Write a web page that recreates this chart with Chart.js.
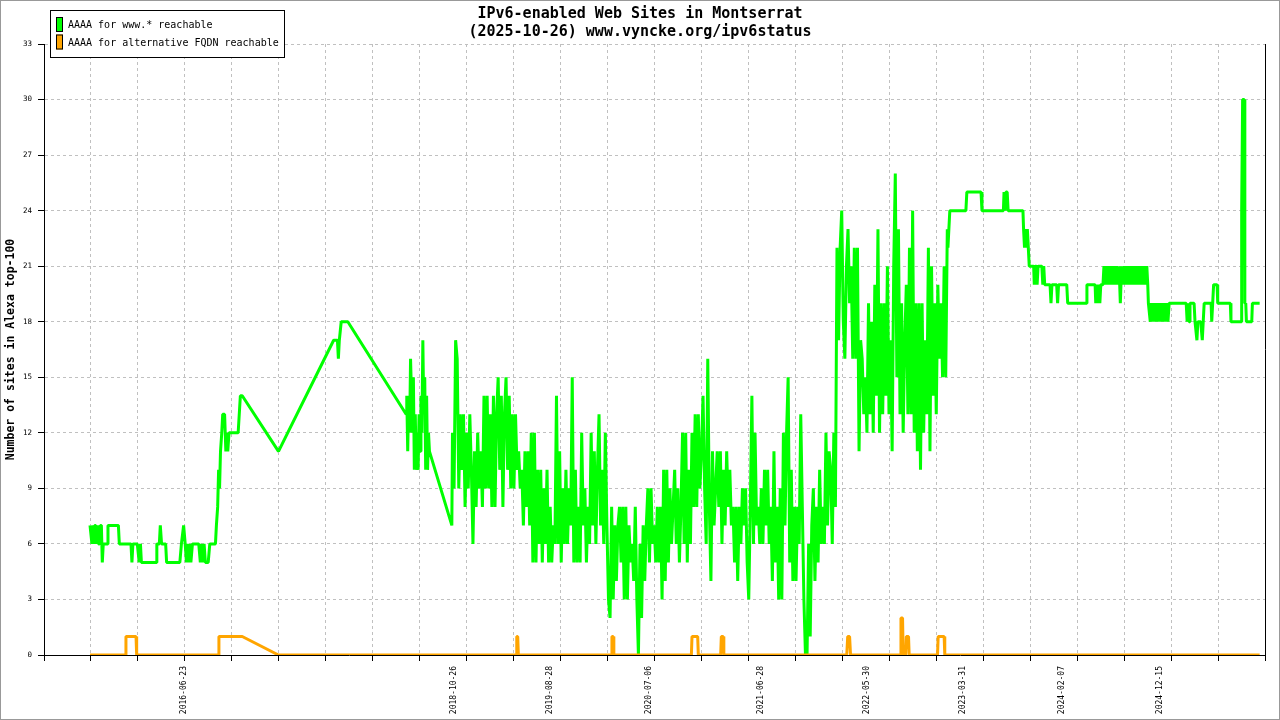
<!DOCTYPE html>
<html><head><meta charset="utf-8">
<script src="https://cdn.jsdelivr.net/npm/chart.js@4.4.1/dist/chart.umd.min.js"></script>
<style>html,body{margin:0;padding:0;background:#fff;}canvas{display:block;}</style>
</head><body>
<canvas id="c" width="1280" height="720"></canvas>
<script>
const titleLines = ['IPv6-enabled Web Sites in Montserrat', '(2025-10-26) www.vyncke.org/ipv6status'];
const yTitle = 'Number of sites in Alexa top-100';
const seriesNames = ['AAAA for www.* reachable', 'AAAA for alternative FQDN reachable'];
const startDate = '2015-08-29';
const tickLabels = ['2016-06-23','2018-10-26','2019-08-28','2020-07-06','2021-06-28','2022-05-30','2023-03-31','2024-02-07','2024-12-15'];

// days since startDate
const wwwDays = [
  0,3,6,9,12,15,18,21,24,27,
  30,33,36,39,42,48,54,57,90,93,
  130,133,136,150,156,160,163,210,212,220,
  223,227,240,243,285,290,297,302,306,310,
  313,317,320,325,330,345,350,354,358,362,
  366,375,380,398,401,405,408,411,414,418,
  421,427,431,434,437,441,470,477,483,598,
  773,785,788,791,797,818,
  1003,1005,1008,1011,1014,1017,1020,1023,1026,1029,
  1032,1035,1038,1041,1044,1047,1050,1053,1056,1059,
  1062,1065,1068,1071,1074,1077,1148,
  1150,1155,1160,1165,1170,1175,1180,1185,1190,1195,
  1200,1205,1210,1215,1220,1225,1230,1235,1240,1245,
  1250,1255,1260,1265,1270,1275,1280,1285,1290,1295,
  1300,1305,1310,1315,1320,1325,1330,1335,1340,1345,
  1350,1355,1360,1365,1370,1375,1380,1385,1390,1395,
  1400,1405,1410,1415,1420,1425,1430,1435,1440,1445,
  1450,1455,1460,1465,1470,1475,1480,1485,1490,1495,
  1500,1505,1510,1515,1520,1525,1530,1535,1540,1545,
  1550,1555,1560,1565,1570,1575,1580,1585,1590,1595,
  1600,1605,1610,1615,1620,1625,1630,1635,1640,1645,
  1650,1655,1660,1665,1670,1675,1680,1685,1690,1695,
  1700,1705,1710,1715,1720,1725,1730,1735,1740,1745,
  1750,1755,1760,1765,1770,1775,1780,1785,1790,1795,
  1800,1805,1810,1815,1820,1825,1830,1835,1840,1845,
  1850,1855,1860,1865,1870,1875,1880,1885,1890,1895,
  1900,1905,1910,1915,1920,1925,1930,1935,1940,1945,
  1950,1955,1960,1965,1970,1975,1980,1985,1990,1995,
  2000,2005,2010,2015,2020,2025,2030,2035,2040,2045,
  2050,2055,2060,2065,2070,2075,2080,2085,2090,2095,
  2100,2105,2110,2115,2120,2125,2130,2135,2140,2145,
  2150,2155,2160,2165,2170,2175,2180,2185,2190,2195,
  2200,2205,2210,2215,2220,2225,2230,2235,2240,2245,
  2250,2255,2260,2265,2270,2275,2280,2285,2290,2295,
  2300,2305,2310,2315,2320,2325,2330,2335,2340,2345,
  2350,2355,2360,2365,2370,2375,2380,2385,2390,2395,
  2400,2405,2410,2415,2420,2425,2430,2435,2440,2445,
  2450,2455,2460,2465,2470,2475,2480,2485,2490,2495,
  2500,2505,2510,2515,2520,2525,2530,2535,2540,2545,
  2550,2555,2560,2565,2570,2575,2580,2585,2590,2595,
  2600,2605,2610,2615,2620,2625,2630,2635,2640,2645,
  2650,2655,2660,2665,2670,2675,2680,2685,2690,2695,
  2700,2705,2710,2715,2720,
  2722,2725,2728,2779,2782,2827,2830,2898,2900,2903,
  2906,2910,2913,2960,2962,2965,2968,2971,2974,2977,
  2980,2994,2996,2999,3003,3005,3008,3020,3023,3026,
  3029,3046,3049,3052,3067,3070,3073,3099,3102,3161,
  3163,3189,3191,3194,3198,3201,3204,3207,3214,3217,
  3221,3225,3229,3233,3237,3241,3245,3249,3253,3257,
  3261,3265,3269,3273,3277,3281,3285,3289,3293,3297,
  3301,3305,3309,3313,3317,3321,3325,3329,3333,3337,
  3341,3345,3349,3353,3356,3358,
  3364,3368,3372,3376,3380,3384,3388,3392,3396,3400,
  3404,3408,3412,3416,3420,3424,
  3478,3481,3484,3487,3490,3503,3506,3509,3512,3515,
  3524,3529,3532,3535,3557,3559,3562,3565,3576,3578,
  3618,3620,3652,3654,3657,3662,3664,3667,3669,3686,
  3688,3711
];
const wwwSites = [
  7,7,6,7,6,7,7,6,7,6,
  6,7,7,5,6,6,6,7,7,6,
  6,5,6,6,5,6,5,5,6,6,
  7,6,6,5,5,6,7,6,5,6,
  5,6,5,6,6,6,5,6,5,6,
  5,5,6,6,7,8,10,9,11,12,
  13,13,11,12,11,12,12,14,14,11,
  17,17,16,17,18,18,
  13,14,11,14,12,16,14,12,15,10,
  13,10,12,10,13,11,14,12,17,13,
  15,10,14,10,12,11,7,
  12,9,17,16,9,13,10,13,8,12,
  9,13,10,6,11,8,12,9,11,8,
  14,9,14,9,13,8,14,8,13,15,
  10,14,8,13,15,10,14,9,13,9,
  13,10,11,9,10,7,11,8,11,7,
  12,5,12,5,10,6,10,5,9,6,
  10,5,8,5,7,6,14,6,11,5,
  9,6,10,6,9,7,15,5,10,5,
  8,5,12,7,9,5,8,6,12,7,
  11,6,10,13,7,10,6,12,7,3,
  2,8,3,7,4,7,8,5,8,3,
  8,3,7,5,6,4,8,3,0,6,
  2,7,4,7,9,5,9,6,7,5,
  8,5,8,3,10,4,10,5,9,6,
  8,10,6,9,5,8,12,6,12,5,
  10,6,12,8,13,8,13,9,11,14,
  9,6,16,8,4,11,7,9,11,8,
  11,6,10,7,11,8,10,7,8,5,
  8,4,8,6,9,7,9,5,3,8,
  14,6,12,7,8,6,9,6,10,7,
  10,6,8,4,11,5,8,3,9,3,
  12,7,12,15,5,10,4,8,4,8,
  6,13,8,3,0,0,6,1,7,9,
  4,8,5,10,6,8,6,12,7,11,
  10,6,12,8,22,17,22,24,18,16,
  21,23,19,21,16,22,16,22,11,17,
  16,13,15,12,19,13,18,12,20,14,
  23,12,19,13,19,14,21,13,17,11,
  21,26,15,23,13,19,12,17,20,13,
  22,13,24,12,19,11,19,10,19,12,
  17,13,22,11,21,14,19,13,20,16,
  19,15,21,15,23,
  22,23,24,24,25,25,24,24,25,24,
  25,25,24,24,23,22,23,22,23,22,
  21,21,20,21,21,20,21,21,20,21,
  20,20,19,20,20,19,20,20,19,19,
  20,20,19,20,19,20,19,20,20,21,
  20,21,20,21,20,21,20,21,20,21,
  20,21,19,21,20,21,20,21,20,21,
  20,21,20,21,20,21,20,21,20,21,
  20,21,20,21,20,19,
  18,19,18,19,18,19,18,19,18,19,
  18,19,18,19,18,19,
  19,18,19,18,19,19,18,18,17,18,
  18,17,18,19,19,18,19,20,20,19,
  19,18,18,24,30,30,19,19,18,18,
  19,19
];
const altDays = [0,112,114,146,148,407,409,483,598,1352,1354,1357,1359,1654,1656,1660,1662,1908,1910,1928,1930,2001,2003,2009,2011,2401,2404,2410,2413,2571,2573,2578,2580,2588,2590,2597,2599,2689,2691,2710,2712,3711];
const altSites = [0,0,1,1,0,0,1,1,0,0,1,1,0,0,1,1,0,0,1,1,0,0,1,1,0,0,1,1,0,0,2,2,0,0,1,1,0,0,1,1,0,0];

const FONT = "'DejaVu Sans Mono', 'Liberation Mono', monospace";
function dayOf(s) {
  const [y, m, d] = s.split('-').map(Number);
  const [y0, m0, d0] = startDate.split('-').map(Number);
  return Math.round((Date.UTC(y, m - 1, d) - Date.UTC(y0, m0 - 1, d0)) / 86400000);
}
const labelDays = tickLabels.map(dayOf);
const labelMap = new Map(labelDays.map((d, i) => [d, tickLabels[i]]));
const xMin = -146, xStep = 149, xDivs = 26, xMax = xMin + xStep * xDivs;
const gridDays = [];
for (let k = 0; k <= xDivs; k++) gridDays.push(xMin + k * xStep);
const allTicks = gridDays.concat(labelDays).sort((a, b) => a - b);
const isLabelTick = (c) => c.tick && labelMap.has(c.tick.value);

const decor = {
  id: 'decor',
  beforeDraw(chart) {
    const c = chart.ctx; c.save(); c.fillStyle = '#fff'; c.fillRect(0, 0, chart.width, chart.height); c.restore();
  },
  afterDraw(chart) {
    const c = chart.ctx, a = chart.chartArea;
    c.save();
    c.strokeStyle = '#000'; c.lineWidth = 1;
    c.beginPath(); c.moveTo(Math.round(a.right) + 0.5, a.top); c.lineTo(Math.round(a.right) + 0.5, a.bottom); c.stroke();
    c.fillStyle = '#000'; c.textAlign = 'center'; c.textBaseline = 'middle';
    c.font = 'bold 15px ' + FONT;
    c.fillText(titleLines[0], chart.width / 2, 14);
    c.fillText(titleLines[1], chart.width / 2, 32);
    // legend
    c.fillStyle = '#fff'; c.fillRect(50, 10, 235, 48);
    c.strokeStyle = '#000'; c.strokeRect(50.5, 10.5, 234, 47);
    const cols = chart.data.datasets.map(d => d.borderColor);
    const rows = [25.5, 43];
    c.font = '10px ' + FONT; c.textAlign = 'left';
    seriesNames.forEach((n, i) => {
      c.fillStyle = cols[i];
      c.fillRect(56, rows[i] - 8.5, 7, 15);
      c.strokeStyle = '#000'; c.strokeRect(56.5, rows[i] - 8, 6, 14);
      c.fillStyle = '#000'; c.fillText(n, 68, rows[i]);
    });
    c.strokeStyle = '#999'; c.strokeRect(0.5, 0.5, chart.width - 1, chart.height - 1);
    c.restore();
  }
};

new Chart(document.getElementById('c'), {
  type: 'line',
  data: {
    datasets: [
      { label: seriesNames[0], data: wwwDays.map((d, i) => ({ x: d, y: wwwSites[i] })), borderColor: '#00ff00', backgroundColor: '#00ff00',
        borderWidth: 3, pointRadius: 0, tension: 0, fill: false, order: 1, borderJoinStyle: 'bevel' },
      { label: seriesNames[1], data: altDays.map((d, i) => ({ x: d, y: altSites[i] })), borderColor: '#ffa500', backgroundColor: '#ffa500',
        borderWidth: 3, pointRadius: 0, tension: 0, fill: false, order: 0, borderJoinStyle: 'bevel' }
    ]
  },
  options: {
    responsive: false, animation: false, events: [],
    layout: { padding: { top: 44, left: 0, right: 15, bottom: 0 } },
    plugins: { legend: { display: false }, title: { display: false }, tooltip: { enabled: false } },
    scales: {
      x: {
        type: 'linear', min: xMin, max: xMax,
        afterBuildTicks: (s) => { s.ticks = allTicks.map(v => ({ value: v })); },
        afterFit: (s) => { s.height = 65; },
        ticks: { autoSkip: false, minRotation: 90, maxRotation: 90, padding: 5, color: '#000',
          font: { family: FONT, size: 8 }, callback: (v) => labelMap.get(v) || '' },
        grid: { color: (c) => isLabelTick(c) ? 'rgba(0,0,0,0)' : '#c0c0c0',
          tickColor: (c) => isLabelTick(c) ? 'rgba(0,0,0,0)' : '#000',
          tickLength: 6, tickBorderDash: [], lineWidth: 1 },
        border: { display: true, color: '#000', width: 1, dash: [3, 3] }
      },
      y: {
        min: 0, max: 33,
        afterFit: (s) => { s.width = 44; },
        ticks: { stepSize: 3, color: '#000', padding: 6, font: { family: FONT, size: 7.5 } },
        grid: { color: '#c0c0c0', tickColor: '#000', tickLength: 6, tickBorderDash: [], lineWidth: 1 },
        border: { display: true, color: '#000', width: 1, dash: [3, 3] },
        title: { display: true, text: yTitle, color: '#000', font: { family: FONT, size: 11.5, weight: 'bold' }, padding: { top: 4, bottom: 0 } }
      }
    }
  },
  plugins: [decor]
});
</script>
</body></html>
